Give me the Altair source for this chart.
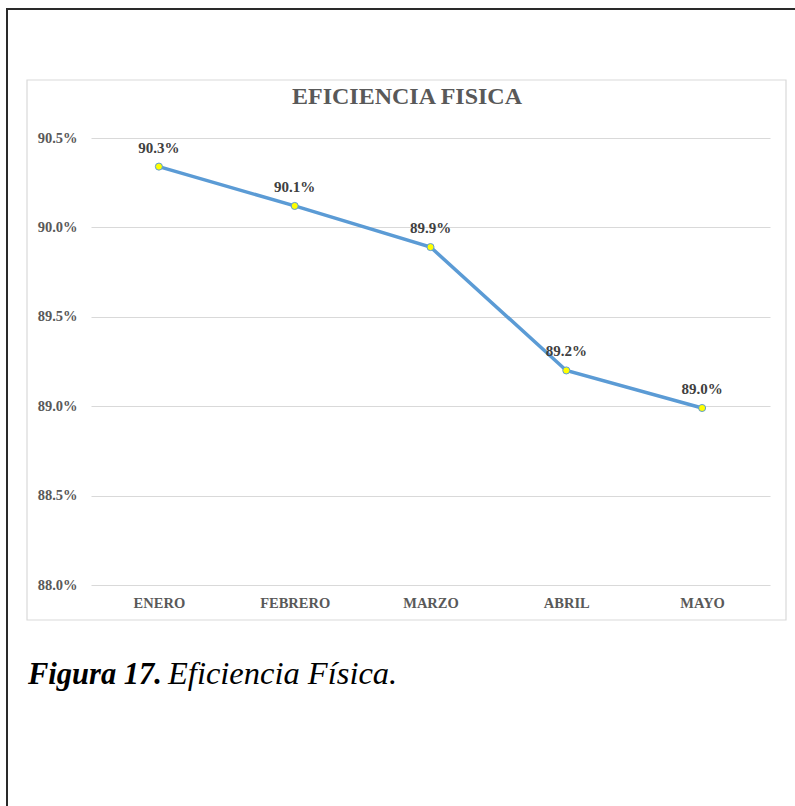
import altair as alt
import pandas as pd

# Monthly physical efficiency (fraction)
meses = ["ENERO", "FEBRERO", "MARZO", "ABRIL", "MAYO"]
eficiencia = [0.9034, 0.9012, 0.8989, 0.8920, 0.8899]
y_ticks = [0.880, 0.885, 0.890, 0.895, 0.900, 0.905]

df = pd.DataFrame({"mes": meses, "eficiencia": eficiencia})

SERIF = "Liberation Serif"
W, H = 679, 447

x_enc = alt.X(
    "mes:N",
    sort=meses,
    title=None,
    axis=alt.Axis(
        labelAngle=0, ticks=False, domain=False, grid=False,
        labelFont=SERIF, labelFontSize=14.5, labelFontWeight="bold",
        labelColor="#595959", labelPadding=11,
    ),
)
y_enc = alt.Y(
    "eficiencia:Q",
    title=None,
    scale=alt.Scale(domain=[0.880, 0.905], nice=False, zero=False),
    axis=alt.Axis(
        values=y_ticks, format=".1%", ticks=False, domain=False,
        grid=True, gridColor="#d9d9d9", gridWidth=1,
        labelFont=SERIF, labelFontSize=14.5, labelFontWeight="bold",
        labelColor="#595959", labelPadding=14,
    ),
)

base = alt.Chart(df)

line = base.mark_line(color="#5b9bd5", strokeWidth=3.5).encode(x=x_enc, y=y_enc)

points = base.mark_point(
    filled=True, fill="#ffff00", stroke="#5b9bd5", strokeWidth=1,
    size=50, opacity=1,
).encode(x=x_enc, y=y_enc)

labels = base.mark_text(
    font=SERIF, fontSize=15, fontWeight="bold", color="#404040",
    baseline="alphabetic", dy=-14,
).encode(x=x_enc, y=y_enc, text=alt.Text("eficiencia:Q", format=".1%"))

# Page frame and chart box
deco = pd.DataFrame({"k": [0]})
frame = alt.Chart(deco).mark_rect(
    fill=None, stroke="#2a2a2a", strokeWidth=2
).encode(
    x=alt.value(-84), x2=alt.value(730), y=alt.value(-129), y2=alt.value(700)
)
box = alt.Chart(deco).mark_rect(
    fill=None, stroke="#d9d9d9", strokeWidth=1.2
).encode(
    x=alt.value(-64), x2=alt.value(695), y=alt.value(-58), y2=alt.value(482)
)

title = alt.Chart(deco).mark_text(
    text="EFICIENCIA FISICA", font=SERIF, fontSize=24, fontWeight="bold",
    color="#595959", align="center", baseline="alphabetic",
).encode(x=alt.value(316), y=alt.value(-34))

cap_bold = alt.Chart(deco).mark_text(
    text="Figura 17.", font=SERIF, fontSize=30.5, fontWeight="bold",
    fontStyle="italic", color="#000000", align="left", baseline="alphabetic",
).encode(x=alt.value(-63), y=alt.value(546))

cap_ital = alt.Chart(deco).mark_text(
    text="Eficiencia Física.", font=SERIF, fontSize=32.5,
    fontStyle="italic", color="#000000", align="left", baseline="alphabetic",
).encode(x=alt.value(77), y=alt.value(546))

chart = alt.layer(
    frame, box, line, points, labels, title, cap_bold, cap_ital
).properties(
    width=W, height=H,
    autosize=alt.AutoSizeParams(type="none"),
    padding={"left": 91, "top": 138, "right": 25, "bottom": 221},
    background="white",
).configure_view(stroke=None)

chart.save("out.html", embed_options={"renderer": "svg", "actions": False})
